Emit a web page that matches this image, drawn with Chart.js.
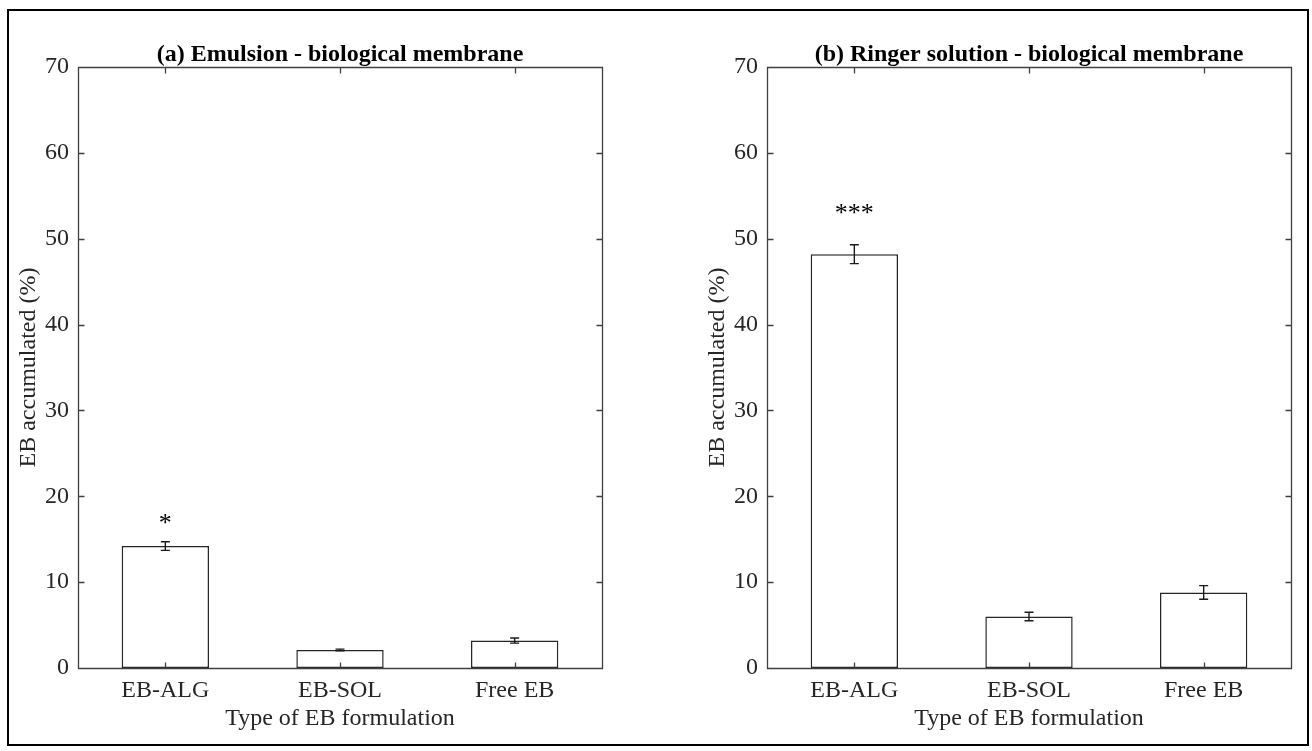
<!DOCTYPE html>
<html>
<head>
<meta charset="utf-8">
<script src="https://cdn.jsdelivr.net/npm/chart.js@4.4.1/dist/chart.umd.min.js"></script>
<style>
body{margin:0;background:#fff;}
#wrap{position:relative;width:1312px;height:751px;}
#frame{position:absolute;left:7px;top:9px;width:1298px;height:733px;border:2px solid #000;}
canvas{position:absolute;top:0;}
</style>
</head>
<body>
<div id="wrap">
<div id="frame"></div>
<canvas id="chartA" width="656" height="751" style="left:0"></canvas>
<canvas id="chartB" width="656" height="751" style="left:656px"></canvas>
</div>
<script>

let formulations = ['EB-ALG', 'EB-SOL', 'Free EB'];

// (a) emulsion
let emulsionMean = [14.2, 2.1, 3.2];
let emulsionErr = [0.5, 0.1, 0.3];
let emulsionSig = ['*', '', ''];

// (b) ringer solution
let ringerMean = [48.2, 6.0, 8.8];
let ringerErr = [1.1, 0.5, 0.8];
let ringerSig = ['***', '', ''];

let serif = '"Liberation Serif", "Times New Roman", serif';
let textColor = '#262626';
let axisColor = '#404040';

// error bars, significance stars and a closed axis box with inward ticks
let boxPlugin = {
    id: 'boxAxes',
    afterDatasetsDraw: function(chart, args, opts){
        let ctx = chart.ctx;
        let area = chart.chartArea;
        let xs = chart.scales.x;
        let ys = chart.scales.y;
        let ds = chart.data.datasets[0];
        let meta = chart.getDatasetMeta(0);

        ctx.save();
        ctx.strokeStyle = '#1a1a1a';
        ctx.lineWidth = 1.4;
        for(let i = 0;i<meta.data.length;i++){
            let bx = meta.data[i].x;
            let v = ds.data[i];
            let e = ds.errors[i];
            let top = ys.getPixelForValue(v + e);
            let bot = ys.getPixelForValue(v - e);
            ctx.beginPath();
            ctx.moveTo(bx, top); ctx.lineTo(bx, bot);
            ctx.moveTo(bx - 4.5, top); ctx.lineTo(bx + 4.5, top);
            ctx.moveTo(bx - 4.5, bot); ctx.lineTo(bx + 4.5, bot);
            ctx.stroke();

            if(ds.marks[i]){
                ctx.fillStyle = '#000';
                ctx.font = '26px ' + serif;
                ctx.textAlign = 'center';
                ctx.textBaseline = 'alphabetic';
                ctx.fillText(ds.marks[i], bx, top - opts.markGap);
            }
        }

        ctx.strokeStyle = axisColor;
        ctx.lineWidth = 1.3;
        let l = Math.round(area.left) + 0.5;
        let r = Math.round(area.right) + 0.5;
        let t = Math.round(area.top) + 0.5;
        let b = Math.round(area.bottom) + 0.5;
        ctx.beginPath();
        ctx.rect(l, t, r - l, b - t);
        ys.ticks.forEach(function(tk){
            let py = Math.round(ys.getPixelForValue(tk.value)) + 0.5;
            ctx.moveTo(l, py); ctx.lineTo(l + 6, py);
            ctx.moveTo(r, py); ctx.lineTo(r - 6, py);
        });
        for(let i = 0;i<formulations.length;i++){
            let px = Math.round(xs.getPixelForValue(i)) + 0.5;
            ctx.moveTo(px, t); ctx.lineTo(px, t + 6);
            ctx.moveTo(px, b); ctx.lineTo(px, b - 6);
        }
        ctx.stroke();
        ctx.restore();
    }
};

function makeChart(id, title, means, errs, marks, padLeft, padRight, markGap){
    let options = {
        type: 'bar',
        data: {
            labels: formulations,
            datasets: [{
                data: means,
                errors: errs,
                marks: marks,
                backgroundColor: '#fff',
                borderColor: '#262626',
                borderWidth: 1.5,
                borderSkipped: false,
                barPercentage: 0.5,
                categoryPercentage: 1
            }]
        },
        options: {
            responsive: false,
            animation: false,
            layout: { padding: { left: padLeft, right: padRight, top: 0, bottom: 0 } },
            plugins: {
                legend: { display: false },
                tooltip: { enabled: false },
                title: {
                    display: true,
                    text: title,
                    fullSize: false,
                    color: '#000',
                    font: { family: serif, size: 24, weight: 'bold', lineHeight: 1.0 },
                    padding: { top: 43, bottom: 0 }
                },
                boxAxes: { markGap: markGap }
            },
            scales: {
                x: {
                    offset: true,
                    grid: { display: false, drawTicks: false },
                    border: { display: false },
                    ticks: { color: textColor, padding: 8, font: { family: serif, size: 24 } },
                    title: {
                        display: true,
                        text: 'Type of EB formulation',
                        color: textColor,
                        font: { family: serif, size: 24 },
                        padding: { top: 0, bottom: 18 }
                    },
                    afterFit: function(scale){ scale.height = 83; }
                },
                y: {
                    min: 0,
                    max: 70,
                    grid: { display: false, drawTicks: false },
                    border: { display: false },
                    ticks: { stepSize: 10, color: textColor, padding: 9, font: { family: serif, size: 24 } },
                    title: {
                        display: true,
                        text: 'EB accumulated (%)',
                        color: textColor,
                        font: { family: serif, size: 24 },
                        padding: { top: 4, bottom: 0 }
                    },
                    afterFit: function(scale){ scale.width = 68; }
                }
            }
        },
        plugins: [boxPlugin]
    };
    return new Chart(document.getElementById(id), options);
}

makeChart('chartA', '(a) Emulsion - biological membrane', emulsionMean, emulsionErr, emulsionSig, 10, 54, 11);
makeChart('chartB', '(b) Ringer solution - biological membrane', ringerMean, ringerErr, ringerSig, 43, 21, 24);

</script>
</body>
</html>
